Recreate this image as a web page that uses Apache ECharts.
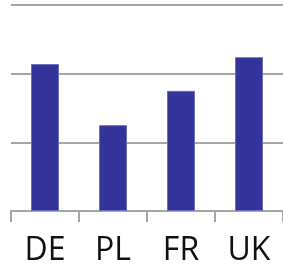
<!DOCTYPE html>
<html><head><meta charset="utf-8">
<script src="https://cdn.jsdelivr.net/npm/echarts@6/dist/echarts.min.js"></script>
<style>html,body{margin:0;padding:0;background:#fff}#c{width:283px;height:267px}</style>
</head><body><div id="c"></div>
<script>
var categories = ['DE', 'PL', 'FR', 'UK'];
var values = [2.14, 1.25, 1.75, 2.24];
var chart = echarts.init(document.getElementById('c'), null, {renderer: 'canvas'});
chart.setOption({
  animation: false,
  grid: {left: 11, right: 0, top: 5, bottom: 55, containLabel: false},
  xAxis: {
    type: 'category', data: categories,
    axisLine: {lineStyle: {color: '#a6a6a6', width: 2}},
    axisTick: {show: true, length: 11, lineStyle: {color: '#a6a6a6', width: 2}},
    axisLabel: {color: '#111', fontSize: 32, fontFamily: 'Open Sans', margin: 24}
  },
  yAxis: {
    type: 'value', min: 0, max: 3, interval: 1,
    axisLabel: {show: false}, axisLine: {show: false}, axisTick: {show: false},
    splitLine: {lineStyle: {color: '#a6a6a6', width: 2}}
  },
  series: [{
    type: 'bar', data: values, barWidth: 28,
    itemStyle: {color: '#333399', borderColor: '#6f6fc0', borderWidth: 1}
  }]
});
</script></body></html>
